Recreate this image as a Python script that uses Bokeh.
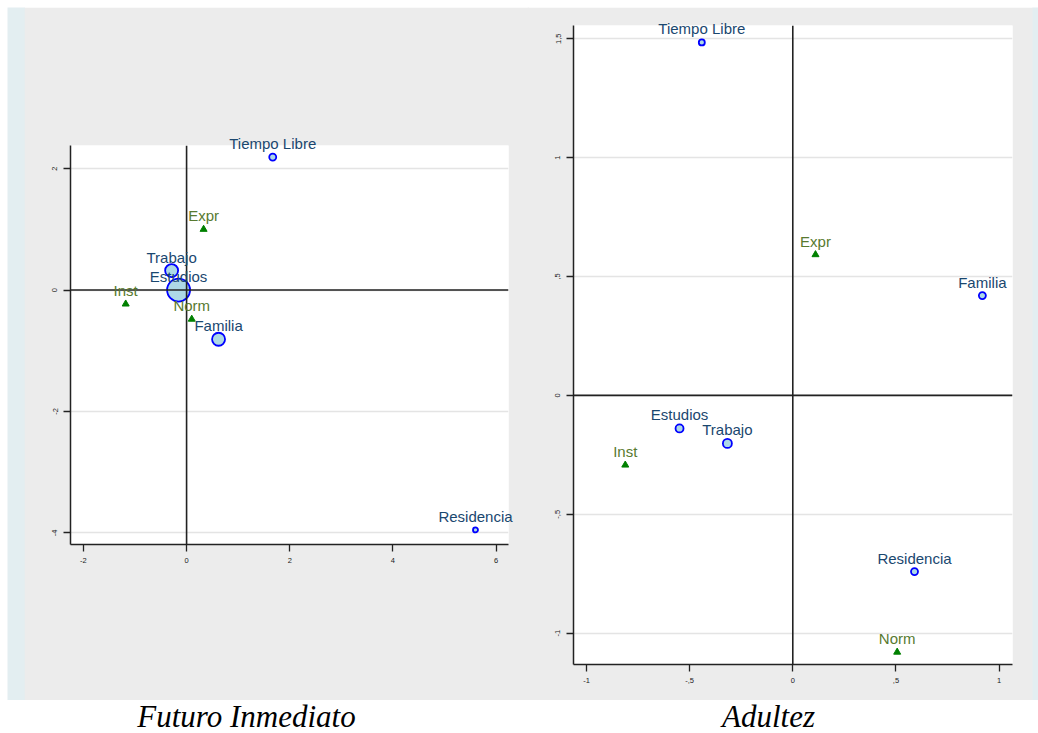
from jinja2 import Template
from bokeh.plotting import figure
from bokeh.models import FixedTicker, Span, Range1d, ColumnDataSource
from bokeh.embed import file_html
from bokeh.resources import INLINE
from bokeh.core.properties import value

# ---------------- data ----------------
# Futuro Inmediato
fi_col_labels = ["Tiempo Libre", "Trabajo", "Estudios", "Familia", "Residencia"]
fi_col_x = [1.67, -0.29, -0.155, 0.62, 5.60]
fi_col_y = [2.19, 0.32, 0.0, -0.81, -3.95]
fi_row_labels = ["Expr", "Inst", "Norm"]
fi_row_x = [0.33, -1.18, 0.10]
fi_row_y = [1.00, -0.23, -0.48]
fi_xticks = [-2, 0, 2, 4, 6]
fi_xtick_labels = ["-2", "0", "2", "4", "6"]
fi_yticks = [-4, -2, 0, 2]
fi_ytick_labels = ["-4", "-2", "0", "2"]

# Adultez
ad_col_labels = ["Tiempo Libre", "Familia", "Estudios", "Trabajo", "Residencia"]
ad_col_x = [-0.441, 0.919, -0.549, -0.317, 0.59]
ad_col_y = [1.485, 0.42, -0.139, -0.202, -0.741]
ad_row_labels = ["Expr", "Inst", "Norm"]
ad_row_x = [0.11, -0.812, 0.506]
ad_row_y = [0.592, -0.293, -1.08]
ad_xticks = [-1, -0.5, 0, 0.5, 1]
ad_xtick_labels = ["-1", "-,5", "0", ",5", "1"]
ad_yticks = [-1, -0.5, 0, 0.5, 1, 1.5]
ad_ytick_labels = ["-1", "-,5", "0", ",5", "1", "1,5"]

captions = ["Futuro Inmediato", "Adultez"]

# ---------------- styles ----------------
GRAY = "#ececec"
STRIP = "#e3eef1"
BLUE_LABEL = "#1a476f"
GREEN_LABEL = "#587a30"
AXIS = "#222222"
fi_marker_px = [7, 13, 23, 13, 5]
ad_marker_px = [6, 7, 8, 9, 7]


def panel(col_lab, col_x, col_y, row_lab, row_x, row_y, sizes,
          xr, yr, xt, xtl, yt, ytl, borders, frame):
    bl, br, bt, bb = borders
    fw, fh = frame
    p = figure(x_range=Range1d(*xr), y_range=Range1d(*yr),
               frame_width=fw, frame_height=fh,
               min_border_left=bl, min_border_right=br,
               min_border_top=bt, min_border_bottom=bb,
               toolbar_location=None, output_backend="svg",
               background_fill_color="white", border_fill_color=GRAY,
               outline_line_color=None)
    p.xgrid.visible = False
    p.ygrid.ticker = FixedTicker(ticks=yt)
    p.ygrid.grid_line_color = "#e4e4e4"
    p.ygrid.grid_line_width = 1.5
    p.xaxis.ticker = FixedTicker(ticks=xt)
    p.yaxis.ticker = FixedTicker(ticks=yt)
    p.xaxis.major_label_overrides = {t: l for t, l in zip(xt, xtl)}
    p.yaxis.major_label_overrides = {t: l for t, l in zip(yt, ytl)}
    p.yaxis.major_label_orientation = "vertical"
    for ax in (p.xaxis, p.yaxis):
        ax.axis_line_color = AXIS
        ax.axis_line_width = 1.5
        ax.major_tick_line_color = AXIS
        ax.major_tick_line_width = 1.3
        ax.major_tick_in = 0
        ax.major_tick_out = 7
        ax.minor_tick_line_color = None
        ax.major_label_text_font = "Liberation Sans"
        ax.major_label_text_font_size = "7.5px"
        ax.major_label_text_color = "#222222"
        ax.major_label_standoff = 6

    p.add_layout(Span(location=0, dimension="height", line_color=AXIS, line_width=1.6))
    p.add_layout(Span(location=0, dimension="width", line_color=AXIS, line_width=1.6))

    cs = ColumnDataSource(dict(x=col_x, y=col_y, t=col_lab, s=sizes))
    rs = ColumnDataSource(dict(x=row_x, y=row_y, t=row_lab))
    p.scatter("x", "y", size="s", source=cs, marker="circle",
              fill_color="#add8e6", line_color="#0000ff", line_width=1.8)
    p.scatter("x", "y", size=7, source=rs, marker="triangle",
              fill_color="#008000", line_color="#008000", line_width=1)

    # transparent overlay covering the whole panel, same data mapping,
    # so that point labels may run past the plot region (as in the original)
    ux = fw / (xr[1] - xr[0])
    uy = fh / (yr[1] - yr[0])
    ov = figure(x_range=Range1d(xr[0] - bl / ux, xr[1] + br / ux),
                y_range=Range1d(yr[0] - bb / uy, yr[1] + bt / uy),
                frame_width=fw + bl + br, frame_height=fh + bt + bb,
                min_border=0, toolbar_location=None, output_backend="svg",
                background_fill_color=None, border_fill_color=None,
                outline_line_color=None)
    ov.axis.visible = False
    ov.grid.visible = False
    for src, col in ((cs, BLUE_LABEL), (rs, GREEN_LABEL)):
        ov.text("x", "y", text="t", source=src, text_align="center",
                text_baseline="bottom", y_offset=-5,
                text_font=value("Liberation Sans"), text_font_size="15px",
                text_color=col)
    return p, ov


left, left_ov = panel(fi_col_labels, fi_col_x, fi_col_y, fi_row_labels, fi_row_x, fi_row_y,
                      fi_marker_px, (-2.25, 6.24), (-4.19, 2.38),
                      fi_xticks, fi_xtick_labels, fi_yticks, fi_ytick_labels,
                      (46, 21, 138, 156), (438, 399))
right, right_ov = panel(ad_col_labels, ad_col_x, ad_col_y, ad_row_labels, ad_row_x, ad_row_y,
                        ad_marker_px, (-1.063, 1.065), (-1.132, 1.556),
                        ad_xticks, ad_xtick_labels, ad_yticks, ad_ytick_labels,
                        (46, 21, 18, 36), (439, 639))


def strip(w):
    s = figure(width=w, height=693, toolbar_location=None, output_backend="svg",
               min_border=0, background_fill_color=STRIP, border_fill_color=STRIP,
               outline_line_color=None, x_range=Range1d(0, 1), y_range=Range1d(0, 1))
    s.axis.visible = False
    s.grid.visible = False
    return s


cap = figure(width=1038, height=53, toolbar_location=None, output_backend="svg",
             min_border=0, background_fill_color=None, border_fill_color=None,
             outline_line_color=None, x_range=Range1d(0, 1038), y_range=Range1d(0, 53))
cap.axis.visible = False
cap.grid.visible = False
cap.text(x=[246, 768], y=[17, 17], text=captions, text_align="center",
         text_baseline="middle", text_font=value("Liberation Serif"),
         text_font_style="italic", text_font_size="31px", text_color="black")

# panels overlap their neighbours by a pixel so that no seam shows
roots = [cap, strip(18), left, right, strip(6), left_ov, right_ov]
lefts = [0, 7, 24, 527, 1032, 24, 527]
tops = [680, 7, 7, 7, 7, 7, 7]

TEMPLATE = Template("""<!DOCTYPE html>
<html lang="en">
<head>
<meta charset="utf-8">
<title>chart</title>
{{ bokeh_css }}
{{ bokeh_js }}
<style>html, body { margin: 0; padding: 0; background: white; overflow: hidden; }</style>
</head>
<body>
{% from macros import embed %}
{% for i in range(n_roots) %}
<div style="position:absolute; left:{{ lefts[i] }}px; top:{{ tops[i] }}px;">
{{ embed(roots[i]) }}
</div>
{% endfor %}
{{ plot_script }}
</body>
</html>
""")

html = file_html(roots, INLINE, template=TEMPLATE,
                 template_variables=dict(lefts=lefts, tops=tops, n_roots=len(roots)))
open("out.html", "w").write(html)
